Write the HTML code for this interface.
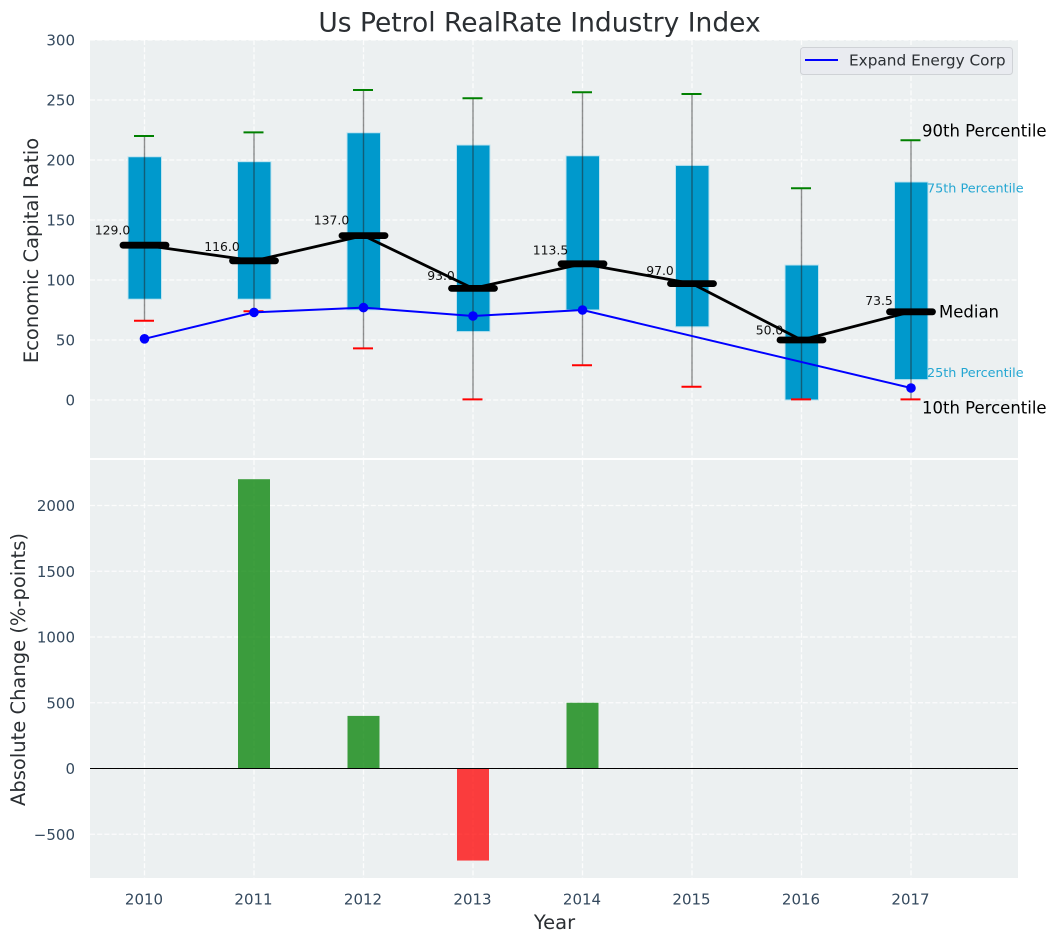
<!DOCTYPE html>
<html>
<head>
<meta charset="utf-8">
<title>Us Petrol RealRate Industry Index</title>
<style>
html,body{margin:0;padding:0;background:#fff;width:1057px;height:942px;overflow:hidden}
svg{display:block;font-family:"DejaVu Sans","Liberation Sans",sans-serif}
</style>
</head>
<body>
<svg id="chart" width="1057" height="942" viewBox="0 0 1057 942" xmlns="http://www.w3.org/2000/svg"></svg>
<script>
const years = [2010, 2011, 2012, 2013, 2014, 2015, 2016, 2017];
const p10 = [66, 74, 43, 0.5, 29, 11, 0.5, 0.5];
const p25 = [84, 84, 75, 57, 75, 61, 0, 17];
const medians = [129, 116, 137, 93, 113.5, 97, 50, 73.5];
const p75 = [202.7, 198.6, 222.7, 212.5, 203.5, 195.5, 112.5, 181.7];
const p90 = [220, 223, 258.3, 251.5, 256.5, 255, 176.5, 216.5];
const companyValues = [51, 73, 77, 70, 75, null, null, 10];
const changes = [null, 2200, 400, -700, 500, null, null, null];
const topTicks = [0, 50, 100, 150, 200, 250, 300];
const bottomTicks = [-500, 0, 500, 1000, 1500, 2000];

const svg = document.getElementById('chart');
const NS = 'http://www.w3.org/2000/svg';
function make(tag, attrs, parent) {
  const el = document.createElementNS(NS, tag);
  for (const k in attrs) el.setAttribute(k, attrs[k]);
  (parent || svg).appendChild(el);
  return el;
}
const xS = v => 144.5 + (v - 2010) * 109.5;
const yTop = v => 400 - v * 1.2;
const yBot = v => 768.5 - v * 0.1315;
const AX_L = 90, AX_R = 1018, TOP_T = 40, TOP_B = 458, BOT_T = 460, BOT_B = 878;
const TICK = '#34495e', LABEL = '#2b2f33';

const bgTop = make('rect', {x: AX_L, y: TOP_T, width: AX_R - AX_L, height: TOP_B - TOP_T, fill: '#ecf0f1'});


const bgBot = make('rect', {x: AX_L, y: BOT_T, width: AX_R - AX_L, height: BOT_B - BOT_T, fill: '#ecf0f1'});



const GRID = {stroke: '#fff', 'stroke-width': 1.3, 'stroke-dasharray': '5 2.2', opacity: 0.85};
years.forEach(yr => {
  const g1 = make('line', Object.assign({x1: xS(yr), x2: xS(yr), y1: TOP_T, y2: TOP_B}, GRID));
  
  
  const g2 = make('line', Object.assign({x1: xS(yr), x2: xS(yr), y1: BOT_T, y2: BOT_B}, GRID));
  
  
  const t = make('text', {x: xS(yr) - 0.5, y: 904.5, 'text-anchor': 'middle', 'font-size': 15, fill: TICK});
  
  
  t.textContent = yr;
});
topTicks.forEach(v => {
  const g = make('line', Object.assign({x1: AX_L, x2: AX_R, y1: yTop(v), y2: yTop(v)}, GRID));
  
  
  const t = make('text', {x: 75, y: yTop(v) + 5.5, 'text-anchor': 'end', 'font-size': 15, fill: TICK});
  
  
  t.textContent = v;
});
bottomTicks.forEach(v => {
  const g = make('line', Object.assign({x1: AX_L, x2: AX_R, y1: yBot(v), y2: yBot(v)}, GRID));
  
  
  const t = make('text', {x: 75, y: yBot(v) + 5.5, 'text-anchor': 'end', 'font-size': 15, fill: TICK});
  
  
  t.textContent = String(v).replace('-', '\u2212');
});

/* Boxes */
years.forEach((yr, i) => {
  const b = make('rect', {x: xS(yr) - 16.5, width: 33.5, y: yTop(p75[i]), height: yTop(p25[i]) - yTop(p75[i]), fill: '#0099cc', stroke: '#bfe3ef', 'stroke-width': 1});
  
  
});
/* Whiskers and caps */
years.forEach((yr, i) => {
  const w = make('line', {x1: xS(yr), x2: xS(yr), y1: yTop(p90[i]), y2: yTop(p10[i]), stroke: '#222', 'stroke-opacity': 0.5, 'stroke-width': 1.4});
  
  
  const c1 = make('line', {x1: xS(yr) - 10.5, x2: xS(yr) + 9.5, y1: yTop(p90[i]), y2: yTop(p90[i]), stroke: '#008000', 'stroke-width': 2});
  
  
  const c2 = make('line', {x1: xS(yr) - 10.5, x2: xS(yr) + 9.5, y1: yTop(p10[i]), y2: yTop(p10[i]), stroke: '#ff0000', 'stroke-width': 2});
  
  
});
/* Median value labels */
years.forEach((yr, i) => {
  const t = make('text', {x: xS(yr) - 32, y: yTop(medians[i] * 1.053 + 5.6) + 4.4, 'text-anchor': 'middle', 'font-size': 12.4, fill: '#111'});
  
  
  t.textContent = medians[i].toFixed(1);
});
/* Median line */
const medLine = make('polyline', {points: years.map((yr, i) => xS(yr) + ',' + yTop(medians[i])).join(' '), fill: 'none', stroke: '#000', 'stroke-width': 2.8});


years.forEach((yr, i) => {
  const m = make('line', {x1: xS(yr) - 21.5, x2: xS(yr) + 21.5, y1: yTop(medians[i]), y2: yTop(medians[i]), stroke: '#000', 'stroke-width': 6.8, 'stroke-linecap': 'round'});
  
  
});
/* Company series */
const companyPts = years.map((yr, i) => companyValues[i] === null ? null : [xS(yr), yTop(companyValues[i])]).filter(Boolean);
const compLine = make('polyline', {points: companyPts.map(p => p.join(',')).join(' '), fill: 'none', stroke: '#0000ff', 'stroke-width': 2});


years.forEach((yr, i) => {
  if (companyValues[i] === null) return;
  const c = make('circle', {cx: xS(yr), cy: yTop(companyValues[i]), r: 4.8, fill: '#0000ff'});
  
  
});
/* Percentile annotations on the last year */
const last = years.length - 1;
const lx = xS(years[last]);
const a90 = make('text', {x: lx + 11, y: yTop(p90[last]) - 3.5, 'font-size': 16.5, fill: '#000'});


a90.textContent = '90th Percentile';
const a75 = make('text', {x: lx + 16, y: yTop(p75[last]) + 10.5, 'font-size': 12.8, fill: '#0099cc', 'fill-opacity': 0.85});


a75.textContent = '75th Percentile';
const aMed = make('text', {x: lx + 28, y: yTop(medians[last]) + 5.5, 'font-size': 16.5, fill: '#000'});


aMed.textContent = 'Median';
const a25 = make('text', {x: lx + 16, y: yTop(p25[last]) - 2.5, 'font-size': 12.8, fill: '#0099cc', 'fill-opacity': 0.85});


a25.textContent = '25th Percentile';
const a10 = make('text', {x: lx + 11, y: yTop(p10[last]) + 14, 'font-size': 16.5, fill: '#000'});


a10.textContent = '10th Percentile';

/* Change bars */
years.forEach((yr, i) => {
  if (changes[i] === null) return;
  const v = changes[i];
  const b = make('rect', {x: xS(yr) - 16, width: 32, y: Math.min(yBot(v), yBot(0)), height: Math.abs(yBot(v) - yBot(0)), fill: v >= 0 ? '#008000' : '#ff0000', 'fill-opacity': 0.75});
  
  
});
const zero = make('line', {x1: AX_L, x2: AX_R, y1: yBot(0), y2: yBot(0), stroke: '#000', 'stroke-width': 1.1});



/* Legend */
const legendBox = make('rect', {x: 800.5, y: 47.5, width: 212, height: 27, rx: 3, fill: '#e9ebf0', stroke: '#cfd2d6', 'stroke-width': 1});


const legendLine = make('line', {x1: 805, x2: 838, y1: 60, y2: 60, stroke: '#0000ff', 'stroke-width': 2});


const legendText = make('text', {x: 849, y: 65.5, 'font-size': 15.3, fill: '#2b2f33'});


legendText.textContent = 'Expand Energy Corp';

/* Titles */
const title = make('text', {x: 539.5, y: 31.5, 'text-anchor': 'middle', 'font-size': 26.5, fill: LABEL});


title.textContent = 'Us Petrol RealRate Industry Index';
const yl1 = make('text', {'text-anchor': 'middle', 'font-size': 19.5, fill: LABEL, transform: 'translate(38 250.5) rotate(-90)'});


yl1.textContent = 'Economic Capital Ratio';
const yl2 = make('text', {'text-anchor': 'middle', 'font-size': 19.5, fill: LABEL, transform: 'translate(25 669.5) rotate(-90)'});


yl2.textContent = 'Absolute Change (%-points)';
const xl = make('text', {x: 554.5, y: 929, 'text-anchor': 'middle', 'font-size': 19.5, fill: LABEL});


xl.textContent = 'Year';
</script>
</body>
</html>
